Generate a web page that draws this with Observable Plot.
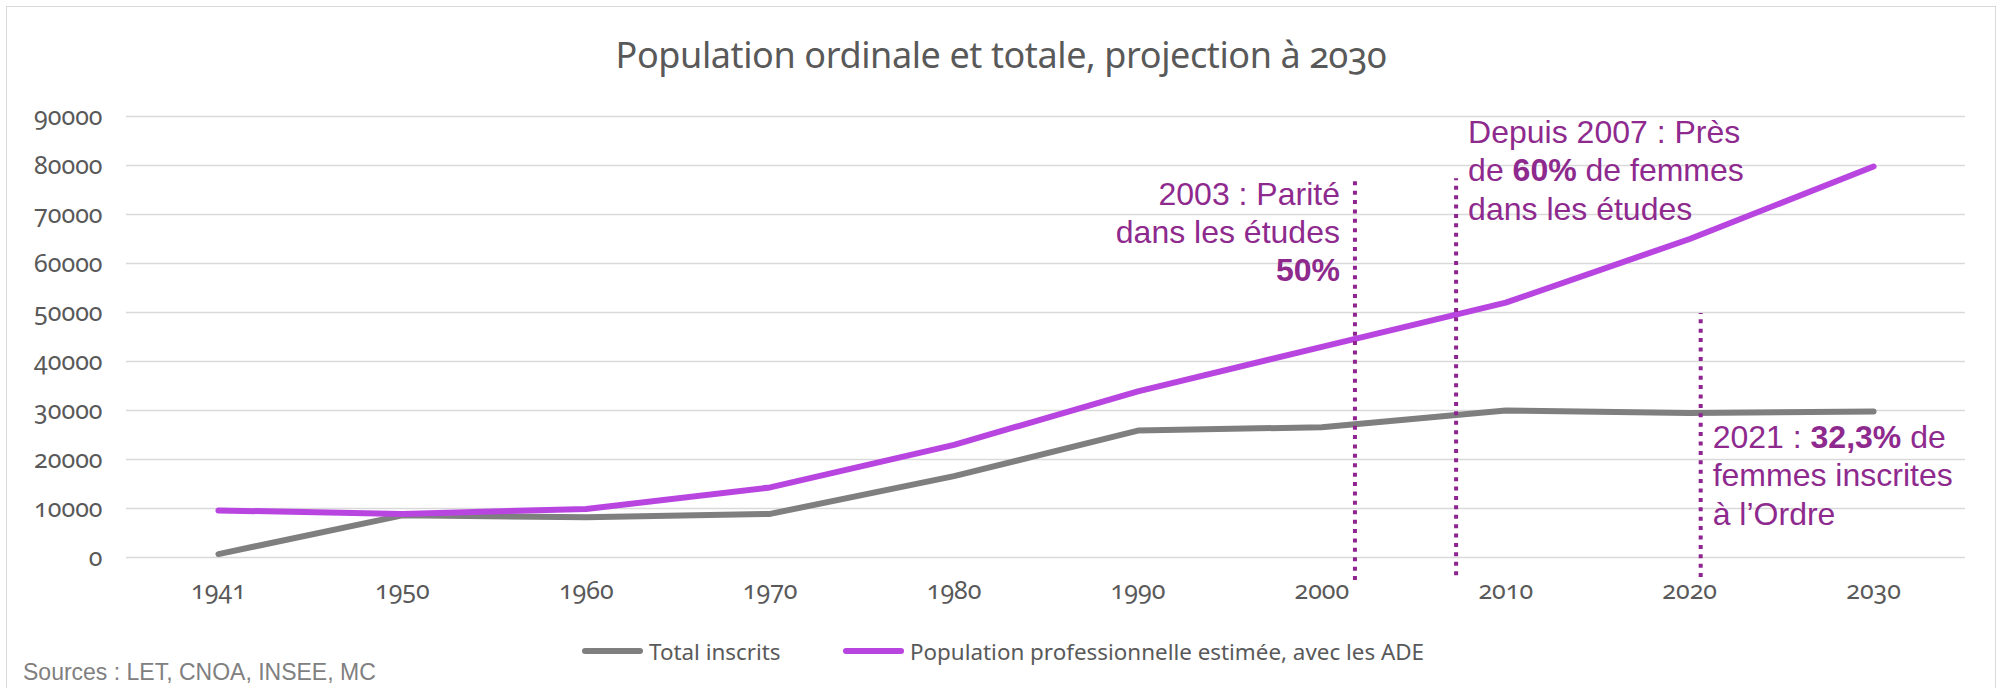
<!DOCTYPE html>
<html>
<head>
<meta charset="utf-8">
<script src="https://cdn.jsdelivr.net/npm/d3@7"></script>
<script src="https://cdn.jsdelivr.net/npm/@observablehq/plot@0.6"></script>
<style>
  body { margin: 0; background: #fff; }
  #wrap { position: relative; width: 2000px; height: 688px; overflow: hidden; background: #fff; font-family: "Noto Sans", sans-serif; }
  #frame { position: absolute; left: 6px; top: 6px; width: 1990px; height: 740px; border: 1.5px solid #d9d9d9; box-sizing: border-box; }
  #title { position: absolute; left: 0; top: 37px; width: 2002px; text-align: center; font-size: 36px; color: #595959; font-variant-numeric: oldstyle-nums; line-height: 1; letter-spacing: -0.4px; }
  #chart { position: absolute; left: 0; top: 80px; }
  #chart svg, #chart svg text { font-variant-numeric: oldstyle-nums; }
  #legend { position: absolute; left: 0; top: 636px; width: 2000px; height: 30px; }
  .item { position: absolute; top: 0; height: 30px; display: flex; align-items: center; font-size: 22.4px; color: #595959; white-space: nowrap; }
  .sw { display: inline-block; width: 61px; height: 6px; border-radius: 3px; margin-right: 6px; }
  #source { position: absolute; left: 23px; top: 661px; font-family: "Liberation Sans", Arial, sans-serif; font-size: 23px; color: #808080; white-space: nowrap; line-height: 1; }
</style>
</head>
<body>
<div id="wrap">
  <div id="frame"></div>
  <div id="title"></div>
  <div id="chart"></div>
  <div id="legend"></div>
  <div id="source"></div>
</div>
<script>
// ---- Data ----
const titleText = "Population ordinale et totale, projection à 2030";
const sourceText = "Sources : LET, CNOA, INSEE, MC";
const years = ["1941", "1950", "1960", "1970", "1980", "1990", "2000", "2010", "2020", "2030"];
const totalInscrits = [700, 8600, 8200, 8900, 16600, 25900, 26600, 30000, 29500, 29800];
const populationPro = [9600, 8900, 9900, 14300, 23000, 33900, 43000, 52000, 65000, 79800];
const seriesNames = ["Total inscrits", "Population professionnelle estimée, avec les ADE"];
const seriesColors = ["#7f7f7f", "#b845e0"];
const yTicks = [0, 10000, 20000, 30000, 40000, 50000, 60000, 70000, 80000, 90000];

// annotation markers: position on the (category) year axis as drawn, vertical extent in data units
const markerYears = [2001.8, 2007.3, 2020.6];
const markerTop = [77300, 77300, 49800];
const markerBottom = [-4700, -3700, -4100];
// annotation texts (** marks bold), top of the first line in data units, side of the marker
const noteTexts = [
  "2003 : Parité\ndans les études\n**50%**",
  "Depuis 2007 : Près\nde **60%** de femmes\ndans les études",
  "2021 : **32,3%** de\nfemmes inscrites\nà l’Ordre"
];
const noteTop = [77570, 90150, 27940];
const noteSide = ["left", "right", "right"];

// ---- helpers ----
const yearNums = years.map(Number);
function yearToIndex(yr) {
  for (let i = 0; i < yearNums.length - 1; i++) {
    if (yr <= yearNums[i + 1]) return i + (yr - yearNums[i]) / (yearNums[i + 1] - yearNums[i]);
  }
  return yearNums.length - 1;
}

const lineRows = [];
[totalInscrits, populationPro].forEach((vals, s) => {
  vals.forEach((v, i) => lineRows.push({i, v, s: seriesNames[s]}));
});
const markers = markerYears.map((yr, k) => ({x: yearToIndex(yr), y1: markerBottom[k], y2: markerTop[k]}));
const notes = noteTexts.map((t, k) => ({x: yearToIndex(markerYears[k]), y: noteTop[k], text: t, side: noteSide[k]}));

const plot = Plot.plot({
  width: 2000,
  height: 540,
  marginLeft: 126,
  marginRight: 35,
  marginTop: 36,
  marginBottom: 63,
  style: {fontFamily: "'Noto Sans', sans-serif", color: "#595959", background: "transparent", overflow: "visible"},
  x: {type: "linear", domain: [-0.5, years.length - 0.5]},
  y: {domain: [0, 90000]},
  color: {domain: seriesNames, range: seriesColors},
  marks: [
    Plot.ruleY(yTicks, {stroke: "#d9d9d9", strokeWidth: 1.5}),
    Plot.axisY(yTicks, {tickSize: 0, tickPadding: 24, fontSize: 25, label: null, tickFormat: d => String(d)}),
    Plot.axisX(d3.range(years.length), {tickSize: 0, tickPadding: 24, fontSize: 25, label: null, tickFormat: i => years[i]}),
    Plot.line(lineRows, {x: "i", y: "v", z: "s", stroke: "s", strokeWidth: 6, strokeLinecap: "round", strokeLinejoin: "round"}),
    Plot.ruleX(markers, {x: "x", y1: "y1", y2: "y2", stroke: "#8e2490", strokeWidth: 4, strokeDasharray: "4,5.4"}),
    Plot.text(notes.filter(d => d.side === "left"), {x: "x", y: "y", text: "text", textAnchor: "end", lineAnchor: "top", lineHeight: 1.2, dx: -15, fontSize: 32, fontFamily: "'Liberation Sans', Arial, sans-serif", fill: "#8e2a8e"}),
    Plot.text(notes.filter(d => d.side === "right"), {x: "x", y: "y", text: "text", textAnchor: "start", lineAnchor: "top", lineHeight: 1.2, dx: 12, fontSize: 32, fontFamily: "'Liberation Sans', Arial, sans-serif", fill: "#8e2a8e"})
  ]
});

// bold segments inside annotations
plot.querySelectorAll("text, tspan").forEach(el => {
  if (el.childNodes.length === 1 && el.firstChild.nodeType === 3 && el.textContent.includes("**")) {
    const parts = el.textContent.split("**");
    el.textContent = "";
    parts.forEach((p, k) => {
      if (!p) return;
      const t = document.createElementNS("http://www.w3.org/2000/svg", "tspan");
      if (k % 2) t.setAttribute("font-weight", "bold");
      t.textContent = p;
      el.appendChild(t);
    });
  }
});
plot.style.fontVariantNumeric = "oldstyle-nums";
plot.querySelectorAll("[aria-label='y-axis tick label'] text, [aria-label='x-axis tick label'] text").forEach(el => {
  el.style.fontVariantNumeric = "oldstyle-nums";
  el.style.fontFeatureSettings = "'onum' 1";
  el.setAttribute("fill", "#595959");
});

document.getElementById("chart").appendChild(plot);
document.getElementById("title").textContent = titleText;
document.getElementById("source").textContent = sourceText;

// legend
const legendLeft = [582, 843];
const legend = document.getElementById("legend");
seriesNames.forEach((name, k) => {
  const item = document.createElement("div");
  item.className = "item";
  item.style.left = legendLeft[k] + "px";
  const sw = document.createElement("span");
  sw.className = "sw";
  sw.style.background = seriesColors[k];
  const tx = document.createElement("span");
  tx.textContent = name;
  item.appendChild(sw);
  item.appendChild(tx);
  legend.appendChild(item);
});
</script>
</body>
</html>
